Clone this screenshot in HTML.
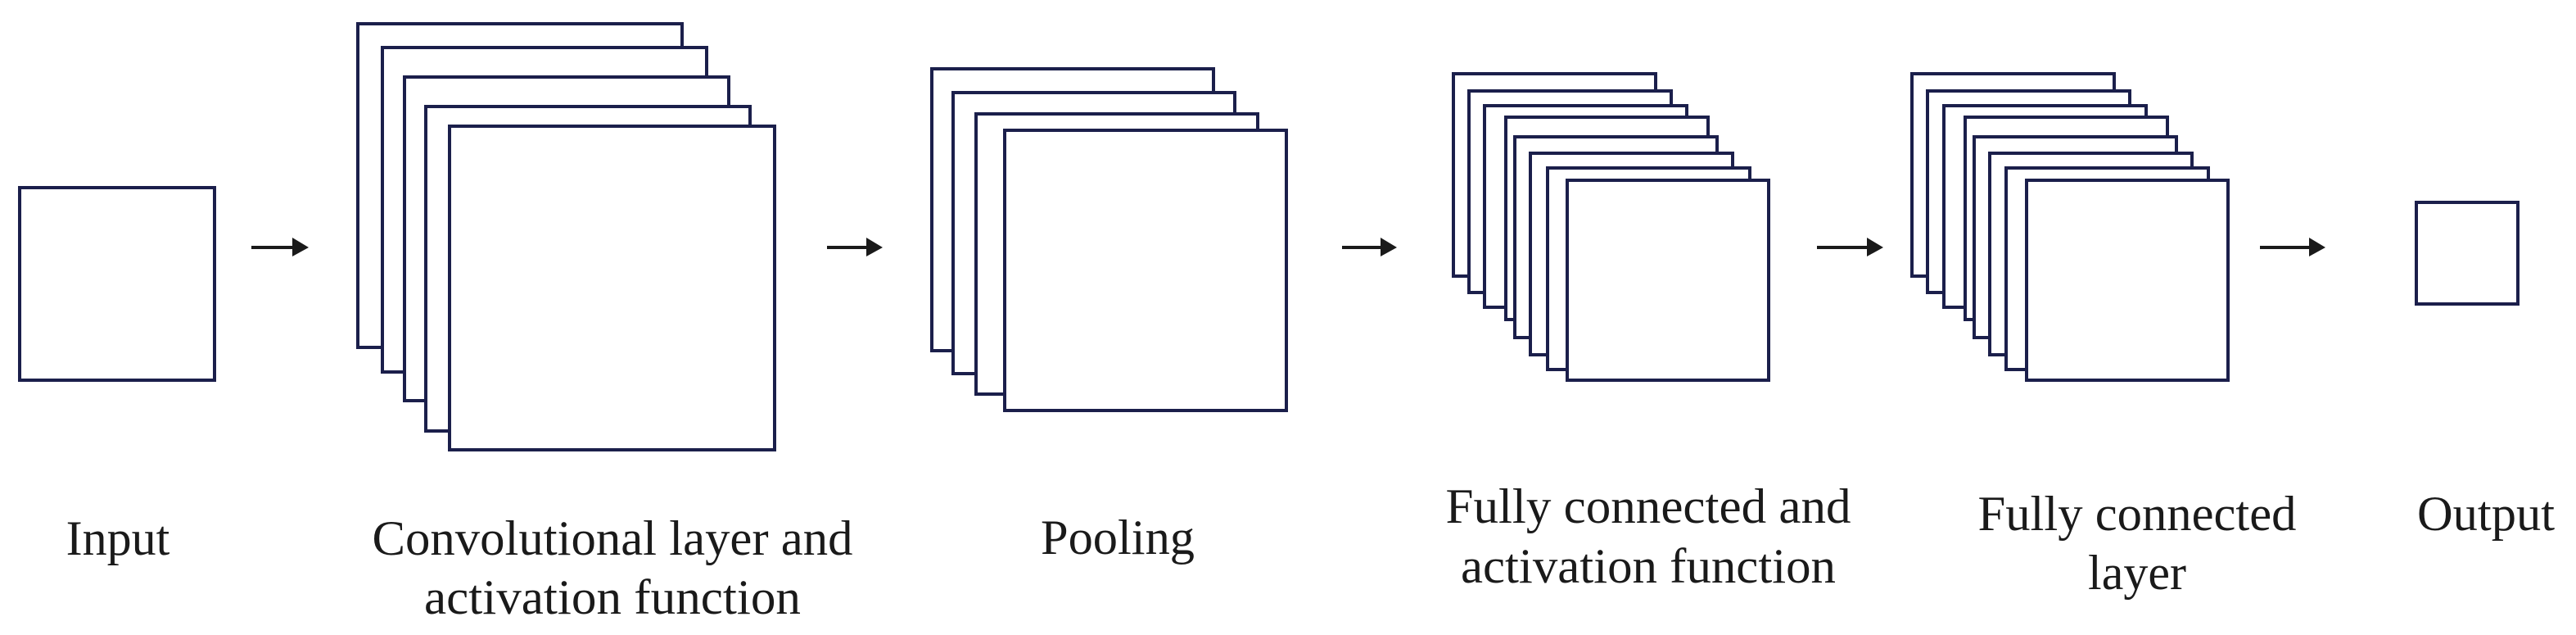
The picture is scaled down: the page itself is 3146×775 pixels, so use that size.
<!DOCTYPE html>
<html><head><meta charset="utf-8"><style>html,body{margin:0;padding:0;background:#fff}svg{display:block}</style></head>
<body>
<svg width="3146" height="775" viewBox="0 0 3146 775" xmlns="http://www.w3.org/2000/svg">
<g fill="#fff" stroke="#1b1f4b" stroke-width="4">
<rect x="24" y="229" width="238" height="235"/>
<rect x="437" y="29" width="396" height="395"/>
<rect x="467" y="58" width="396" height="396"/>
<rect x="494" y="94" width="396" height="395"/>
<rect x="520" y="130" width="396" height="396"/>
<rect x="549" y="154" width="397" height="395"/>
<rect x="1138" y="84" width="344" height="344"/>
<rect x="1164" y="113" width="344" height="343"/>
<rect x="1192" y="139" width="344" height="342"/>
<rect x="1227" y="159" width="344" height="342"/>
<rect x="1775" y="90" width="247" height="247"/>
<rect x="1794" y="111" width="247" height="246"/>
<rect x="1813" y="129" width="247" height="246"/>
<rect x="1839" y="143" width="247" height="247"/>
<rect x="1850" y="167" width="247" height="245"/>
<rect x="1869" y="187" width="247" height="246"/>
<rect x="1890" y="205" width="247" height="246"/>
<rect x="1914" y="220" width="246" height="244"/>
<rect x="2335" y="90" width="247" height="247"/>
<rect x="2354" y="111" width="247" height="246"/>
<rect x="2374" y="129" width="247" height="246"/>
<rect x="2400" y="143" width="247" height="247"/>
<rect x="2411" y="167" width="247" height="245"/>
<rect x="2430" y="187" width="247" height="246"/>
<rect x="2450" y="205" width="247" height="246"/>
<rect x="2475" y="220" width="246" height="244"/>
<rect x="2951" y="247" width="124" height="124"/>
</g>
<g fill="#1a1a1a" stroke="#1a1a1a">
<line x1="307" y1="302" x2="360" y2="302" stroke-width="4"/><polygon points="357,290 377,302 357,313" stroke="none"/>
<line x1="1010" y1="302" x2="1061" y2="302" stroke-width="4"/><polygon points="1058,290 1078,302 1058,313" stroke="none"/>
<line x1="1639" y1="302" x2="1689" y2="302" stroke-width="4"/><polygon points="1686,290 1706,302 1686,313" stroke="none"/>
<line x1="2219" y1="302" x2="2283" y2="302" stroke-width="4"/><polygon points="2280,290 2300,302 2280,313" stroke="none"/>
<line x1="2760" y1="302" x2="2823" y2="302" stroke-width="4"/><polygon points="2820,290 2840,302 2820,313" stroke="none"/>
</g>
<g font-family="'Liberation Serif', serif" font-size="60" fill="#1a1a1a" text-anchor="middle">
<text x="144" y="677">Input</text>
<text x="748" y="677" textLength="587" lengthAdjust="spacingAndGlyphs">Convolutional layer and</text>
<text x="748" y="749" textLength="460" lengthAdjust="spacingAndGlyphs">activation function</text>
<text x="1365" y="676" textLength="188" lengthAdjust="spacingAndGlyphs">Pooling</text>
<text x="2013" y="638" textLength="495" lengthAdjust="spacingAndGlyphs">Fully connected and</text>
<text x="2013" y="711" textLength="458" lengthAdjust="spacingAndGlyphs">activation function</text>
<text x="2610" y="647" textLength="389" lengthAdjust="spacingAndGlyphs">Fully connected</text>
<text x="2610" y="719">layer</text>
<text x="3036" y="647" textLength="168" lengthAdjust="spacingAndGlyphs">Output</text>
</g>
</svg>
</body></html>
